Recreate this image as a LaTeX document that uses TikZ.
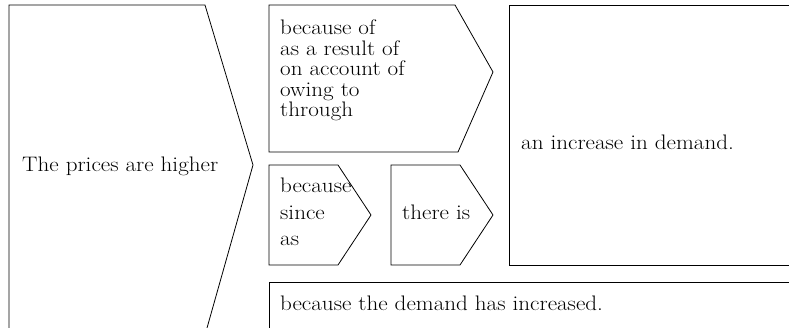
\documentclass[tikz,border=0pt]{standalone}
\usepackage{fontspec}
\setmainfont{Latin Modern Roman}[FakeStretch=1.1]
\begin{document}
\begin{tikzpicture}[x=1pt,y=-1pt,
  outline/.style={draw=black,line width=0.8pt,line join=miter},
  txt/.style={inner sep=0pt,anchor=base west,font=\fontsize{21}{20.5}\selectfont,align=left}]
\useasboundingbox (0,0) rectangle (789,328);
% shapes
\draw[outline] (9,328) -- (9,5) -- (205,5) -- (253,165) -- (207,328);
\draw[outline] (269,5) -- (455,5) -- (493,72) -- (458,152) -- (269,152) -- cycle;
\draw[outline] (269,165) -- (338,165) -- (371,215) -- (338,265) -- (269,265) -- cycle;
\draw[outline] (391,165) -- (460,165) -- (493,215) -- (460,265) -- (391,265) -- cycle;
\draw[outline] (789,5) -- (509,5) -- (509,265) -- (789,265);
\draw[outline] (789,282) -- (269,282) -- (269,328);
% texts (anchor base west = baseline of the last line)
\node[txt] (prices) at (22,172) {The prices are higher};
\node[txt] (phrases) at (280,117) {because of\\as a result of\\on account of\\owing to\\through};
\node[txt,font=\fontsize{21}{26.5}\selectfont] (conj) at (280,246) {because\\since\\as};
\node[txt] (thereis) at (402,220) {there is};
\node[txt] (increase) at (521,150) {an increase in demand.};
\node[txt] (demand) at (280,310) {because the demand has increased.};
\end{tikzpicture}
\end{document}
